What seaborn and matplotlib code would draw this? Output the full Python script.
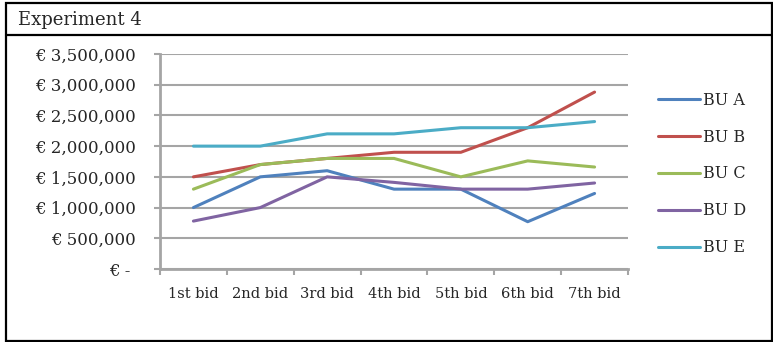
import matplotlib
matplotlib.use("Agg")
import matplotlib.pyplot as plt
from matplotlib.lines import Line2D
from matplotlib.patches import Rectangle
from matplotlib.ticker import FixedLocator, FuncFormatter
import numpy as np
import pandas as pd
import seaborn as sns

# Bid rounds and the bids of each business unit (EUR)
bids = ["1st bid", "2nd bid", "3rd bid", "4th bid", "5th bid", "6th bid", "7th bid"]
bu_a = [1000000, 1500000, 1600000, 1300000, 1300000, 770000, 1230000]
bu_b = [1500000, 1700000, 1800000, 1900000, 1900000, 2300000, 2880000]
bu_c = [1300000, 1700000, 1800000, 1800000, 1500000, 1760000, 1660000]
bu_d = [780000, 1000000, 1500000, 1410000, 1300000, 1300000, 1400000]
bu_e = [2000000, 2000000, 2200000, 2200000, 2300000, 2300000, 2400000]
series_names = ["BU A", "BU B", "BU C", "BU D", "BU E"]
series_values = [bu_a, bu_b, bu_c, bu_d, bu_e]
colors = ["#4F81BD", "#C0504D", "#9BBB59", "#8064A2", "#4BACC6"]

rows = []
for name, vals in zip(series_names, series_values):
    for i, v in enumerate(vals):
        rows.append({"bid": bids[i], "pos": i + 0.5, "value": v, "unit": name})
df = pd.DataFrame(rows)

sns.set_style("white")
plt.rcParams["font.family"] = ["DejaVu Serif"]

W, H = 773, 342
fig = plt.figure(figsize=(W / 100, H / 100), dpi=100)
ax = fig.add_axes([160 / W, 1 - 269 / H, (628 - 160) / W, (269 - 54) / H])

sns.lineplot(data=df, x="pos", y="value", hue="unit", palette=colors,
             linewidth=2.2, ax=ax, legend=False, sort=False)

grid_c = "#A5A5A5"
ax.set_xlim(0, len(bids))
ax.set_ylim(0, 3500000)
ax.set_yticks(np.arange(0, 3500001, 500000))
ax.yaxis.grid(True, color=grid_c, linewidth=1.5)
ax.set_axisbelow(True)
ax.xaxis.grid(False)


def euro(v, _):
    if v == 0:
        return "€ - "
    return "€ {:,.0f}".format(v)


ax.yaxis.set_major_formatter(FuncFormatter(euro))
ax.xaxis.set_major_locator(FixedLocator(np.arange(0, len(bids) + 1)))
ax.xaxis.set_major_formatter(FuncFormatter(lambda v, _: ""))
ax.xaxis.set_minor_locator(FixedLocator(np.arange(len(bids)) + 0.5))
ax.set_xticklabels(bids, minor=True)
ax.tick_params(axis="x", which="major", direction="out", length=4.5,
               width=1.5, color=grid_c, bottom=True)
ax.tick_params(axis="x", which="minor", length=0, pad=13, labelsize=10.5)
ax.tick_params(axis="y", direction="out", length=4.5, width=1.5,
               color=grid_c, left=True, pad=13, labelsize=12)
ax.set_xlabel("")
ax.set_ylabel("")
for side in ["top", "right"]:
    ax.spines[side].set_visible(False)
for side in ["left", "bottom"]:
    ax.spines[side].set_color(grid_c)
    ax.spines[side].set_linewidth(2)

handles = [Line2D([0], [0], color=c, linewidth=2.2) for c in colors]
fig.legend(handles, series_names, loc="center left",
           bbox_to_anchor=(658 / W, 1 - 174 / H), frameon=False,
           fontsize=11.5, handlelength=2.6, handletextpad=0.2,
           labelspacing=1.25, borderpad=0, borderaxespad=0)

# Title box and outer frame
fig.patches.append(Rectangle((6 / W, 1 - 341 / H), (772 - 6) / W, (341 - 3) / H,
                             transform=fig.transFigure, fill=False,
                             edgecolor="black", linewidth=1.6))
fig.lines.append(Line2D([6 / W, 772 / W], [1 - 35 / H, 1 - 35 / H],
                        transform=fig.transFigure, color="black", linewidth=1.6))
fig.text(18 / W, 1 - 20 / H, "Experiment 4", ha="left", va="center",
         fontsize=13)

fig.savefig("out.png", dpi=100, facecolor="white")
